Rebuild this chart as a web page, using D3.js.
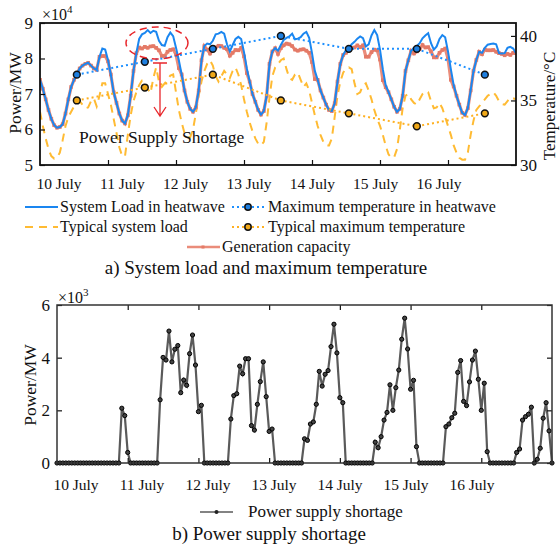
<!DOCTYPE html>
<html><head><meta charset="utf-8">
<script src="https://cdn.jsdelivr.net/npm/d3@7"></script>
<style>
body{margin:0;background:#fff}
svg{display:block}
text{font-family:"Liberation Serif","Times New Roman",serif;fill:#111}
</style>
</head><body>
<svg id="c" width="560" height="546"></svg>
<script>
// ---------------- DATA ----------------
const dayLabels = ["10 July","11 July","12 July","13 July","14 July","15 July","16 July"];
const dayTicks = [24,48,72,96,120,144];
// hourly system load in heatwave (x10^4 MW), hours 0..168
const heatLoad = [
 7.40,7.15,6.85,6.55,6.30,6.12,6.05,6.07,6.15,6.45,6.85,7.20,7.40,7.55,7.72,7.80,7.85,7.88,7.80,7.72,7.68,8.05,8.28,8.25,
 7.96,7.55,7.05,6.75,6.45,6.25,6.17,6.40,6.95,7.65,8.15,8.55,8.68,8.72,8.80,8.72,8.78,8.75,8.50,8.38,8.36,8.60,8.73,8.63,
 8.30,7.95,7.55,7.10,6.78,6.58,6.50,6.62,7.10,7.95,8.35,8.42,8.40,8.50,8.68,8.70,8.75,8.70,8.40,8.20,8.38,8.55,8.61,8.55,
 8.18,7.72,7.35,7.00,6.78,6.55,6.42,6.52,6.95,7.85,8.20,8.29,8.22,8.38,8.52,8.58,8.62,8.70,8.54,8.56,8.60,8.70,8.75,8.58,
 8.15,7.65,7.40,7.10,6.90,6.70,6.55,6.52,6.74,7.35,7.85,8.10,8.24,8.29,8.40,8.47,8.56,8.62,8.57,8.34,8.40,8.65,8.80,8.66,
 8.25,7.70,7.25,7.05,6.85,6.64,6.50,6.58,6.95,7.65,7.95,8.22,8.28,8.35,8.43,8.57,8.65,8.71,8.43,8.25,8.34,8.55,8.66,8.60,
 8.20,7.70,7.25,6.95,6.70,6.47,6.41,6.60,7.10,7.65,7.96,8.19,8.16,8.30,8.39,8.41,8.42,8.40,8.15,8.14,8.15,8.30,8.33,8.28,8.15];
// typical system load (x10^4 MW)
const typicalLoad = [
 6.50,6.10,5.75,5.45,5.25,5.18,5.20,5.35,5.70,6.10,6.35,6.50,6.65,6.78,6.80,6.70,6.60,6.62,6.80,6.88,6.65,6.95,7.30,7.30,
 7.00,6.70,6.30,5.90,5.50,5.25,5.25,5.85,6.40,6.80,7.05,7.25,7.38,7.38,7.15,7.02,7.45,7.75,7.35,7.20,7.30,7.40,7.52,7.55,
 7.05,6.55,6.20,5.90,5.80,5.78,6.00,6.45,6.95,7.35,7.65,7.85,7.95,7.80,7.50,7.35,7.50,7.65,7.55,7.45,7.65,7.75,7.55,7.25,
 6.85,6.50,6.20,5.95,5.75,5.60,5.55,5.65,6.20,6.90,7.50,7.75,7.85,7.95,8.00,7.70,7.45,7.40,7.55,7.60,7.40,7.20,7.30,7.10,
 6.75,6.40,6.10,5.85,5.65,5.55,5.55,5.75,6.35,6.95,7.35,7.60,7.72,7.75,7.70,7.30,7.00,7.05,7.25,7.30,7.10,6.85,6.55,6.30,
 6.10,5.85,5.55,5.30,5.20,5.22,5.45,6.00,6.60,6.95,7.00,6.85,6.75,6.70,6.85,7.00,7.08,7.05,6.80,6.60,6.62,6.75,6.60,6.35,
 6.10,5.85,5.55,5.35,5.20,5.15,5.15,5.35,5.85,6.25,6.55,6.65,6.75,6.85,6.95,7.00,7.05,6.95,6.80,6.72,6.70,6.80,6.90,6.88,6.85];
// generation capacity (x10^4 MW)
const genCapacity = [
 7.40,7.15,6.85,6.55,6.30,6.12,6.05,6.07,6.15,6.45,6.85,7.20,7.40,7.55,7.72,7.80,7.85,7.88,7.80,7.72,7.68,8.05,8.07,8.07,
 7.92,7.55,7.05,6.75,6.45,6.25,6.17,6.40,6.95,7.65,8.15,8.31,8.28,8.33,8.30,8.34,8.35,8.30,8.23,8.07,8.07,8.19,8.24,8.26,
 8.11,7.73,7.55,7.10,6.78,6.58,6.50,6.62,7.10,7.95,8.35,8.25,8.14,8.24,8.31,8.36,8.35,8.30,8.26,8.08,8.16,8.24,8.23,8.30,
 8.06,7.59,7.35,7.00,6.78,6.55,6.42,6.52,6.95,7.85,8.20,8.29,8.13,8.29,8.37,8.42,8.40,8.35,8.25,8.22,8.25,8.26,8.22,8.16,
 7.90,7.42,7.40,7.10,6.90,6.70,6.55,6.52,6.74,7.35,7.85,8.10,8.16,8.23,8.30,8.31,8.37,8.32,8.37,8.05,8.05,8.18,8.25,8.23,
 7.97,7.39,7.19,7.05,6.85,6.64,6.50,6.58,6.95,7.65,7.95,8.22,8.14,8.20,8.26,8.38,8.31,8.32,8.20,8.03,8.03,8.16,8.24,8.28,
 8.00,7.40,7.21,6.95,6.70,6.47,6.41,6.60,7.10,7.65,7.96,8.19,8.12,8.25,8.23,8.23,8.24,8.19,8.15,8.13,8.09,8.13,8.10,8.16,8.15];
// daily maximum temperatures (hour of day 13)
const tempHours = [13,37,61,85,109,133,157];
const heatTemp = [37,38,39,40,39,39,37];
const typicalTemp = [35,36,37,35,34,33,34];
// power supply shortage (MW), hours 0..168
const shortage = [
 0,0,0,0,0,0,0,0,0,0,0,0,0,0,0,0,0,0,0,0,0,0,2080,1800,
 400,0,0,0,0,0,0,0,0,0,0,2400,4010,3910,5010,3840,4320,4460,2670,3150,2950,4150,4860,3720,
 1950,2190,0,0,0,0,0,0,0,0,0,1670,2560,2630,3680,3390,3960,3960,1420,1250,2230,3090,3840,2520,
 1200,1290,0,0,0,0,0,0,0,0,0,0,920,860,1480,1560,2230,3480,2920,3370,3510,4420,5270,4180,
 2480,2290,0,0,0,0,0,0,0,0,0,0,790,580,1000,1630,1920,2970,2000,2860,3530,4700,5500,4330,
 2800,3140,620,0,0,0,0,0,0,0,0,0,1380,1480,1720,1890,3440,3890,2340,2180,3080,3910,4250,3180,
 2000,3030,430,0,0,0,0,0,0,0,0,0,400,530,1630,1760,1850,2120,0,140,560,1700,2290,1220,0];
const loadTicks = [5,6,7,8,9];
const tempTicks = [30,35,40];
const shortTicks = [0,2000,4000,6000];

// ---------------- STYLE ----------------
const C = {
  blue:"#1a86f0", tempBlue:"#1e90ff", orange:"#ffbb33", tempOrange:"#ffb020",
  gen:"#ea8c7a", genMk:"#e47a67", red:"#e8262b", gray:"#5a5a5a"
};
const svg = d3.select("#c");

// ---------------- TOP CHART ----------------
const T = {l:40, r:516, t:23, b:165};
const x1 = d3.scaleLinear().domain([0,168]).range([T.l,T.r]);
const yL = d3.scaleLinear().domain([5,9]).range([T.b,T.t]);
const yR = d3.scaleLinear().domain([30,41]).range([T.b,T.t]);

const gTop = svg.append("g");
svg.append("clipPath").attr("id","clipT").append("rect")
  .attr("x",T.l).attr("y",T.t).attr("width",T.r-T.l).attr("height",T.b-T.t);
const plotT = gTop.append("g").attr("clip-path","url(#clipT)");

const lineL = arr => d3.line().x((d,i)=>x1(i)).y(d=>yL(d))(arr);
plotT.append("path").attr("d",lineL(typicalLoad)).attr("fill","none")
  .attr("stroke",C.orange).attr("stroke-width",2).attr("stroke-dasharray","8,6");
plotT.append("path").attr("d",lineL(genCapacity)).attr("fill","none")
  .attr("stroke",C.gen).attr("stroke-width",3.2);
plotT.selectAll("rect.gm").data(genCapacity).join("rect").attr("class","gm")
  .attr("x",(d,i)=>x1(i)-1.8).attr("y",d=>yL(d)-1.8).attr("width",3.6).attr("height",3.6)
  .attr("fill",C.genMk);
plotT.append("path").attr("d",lineL(heatLoad)).attr("fill","none")
  .attr("stroke",C.blue).attr("stroke-width",2);

const lineTemp = arr => d3.line().x((d,i)=>x1(tempHours[i])).y(d=>yR(d))(arr);
[[heatTemp,C.tempBlue,"#1e7fe0"],[typicalTemp,C.tempOrange,"#f0a818"]].forEach(([arr,col,fill])=>{
  plotT.append("path").attr("d",lineTemp(arr)).attr("fill","none")
    .attr("stroke",col).attr("stroke-width",2).attr("stroke-dasharray","2,3");
  plotT.selectAll(null).data(arr).join("circle")
    .attr("cx",(d,i)=>x1(tempHours[i])).attr("cy",d=>yR(d)).attr("r",3.4)
    .attr("fill",fill).attr("stroke","#111").attr("stroke-width",1.5);
});

function styleAxis(g, fs){
  g.select(".domain").remove();
  g.selectAll("line").attr("stroke","#111").attr("stroke-width",1.2);
  g.selectAll("text").attr("font-size",fs).attr("font-family","Liberation Serif").attr("fill","#111");
}
gTop.append("g").attr("transform",`translate(${T.l},0)`)
  .call(d3.axisLeft(yL).tickValues(loadTicks).tickSize(-5).tickPadding(7).tickFormat(d3.format("d")))
  .call(g=>styleAxis(g,17));
gTop.append("g").attr("transform",`translate(${T.r},0)`)
  .call(d3.axisRight(yR).tickValues(tempTicks).tickSize(-5).tickPadding(4).tickFormat(d3.format("d")))
  .call(g=>styleAxis(g,17));
gTop.append("g").attr("transform",`translate(0,${T.b})`)
  .call(d3.axisBottom(x1).tickValues(dayTicks).tickSize(-5).tickFormat(""))
  .call(g=>styleAxis(g,15));
gTop.append("g").attr("transform",`translate(0,${T.t})`)
  .call(d3.axisTop(x1).tickValues(dayTicks).tickSize(-5).tickFormat(""))
  .call(g=>styleAxis(g,15));
gTop.append("rect").attr("x",T.l).attr("y",T.t).attr("width",T.r-T.l).attr("height",T.b-T.t)
  .attr("fill","none").attr("stroke","#111").attr("stroke-width",1.8);

const lab1 = d3.scalePoint().domain(dayLabels).range([59,439]);
gTop.selectAll("text.dl").data(dayLabels).join("text").attr("class","dl")
  .attr("x",d=>lab1(d)).attr("y",189).attr("text-anchor","middle").attr("font-size",15.5).text(d=>d);

const ex1 = gTop.append("text").attr("x",42).attr("y",20).attr("font-size",16);
ex1.append("tspan").text("×10");
ex1.append("tspan").attr("dy",-7).attr("font-size",11).text("4");

gTop.append("text").attr("transform","translate(15,93) rotate(-90)").attr("text-anchor","middle")
  .attr("dominant-baseline","central").attr("font-size",17.5).text("Power/MW");
gTop.append("text").attr("transform","translate(549,106) rotate(-90)").attr("text-anchor","middle")
  .attr("dominant-baseline","central").attr("font-size",17).text("Temperature/°C");

// annotation
gTop.append("ellipse").attr("cx",157).attr("cy",43).attr("rx",31).attr("ry",16)
  .attr("fill","none").attr("stroke",C.red).attr("stroke-width",1.5).attr("stroke-dasharray","7,5");
gTop.append("path").attr("d","M153,63H167M160,63V116M154,107L160,116L166,107")
  .attr("fill","none").attr("stroke",C.red).attr("stroke-width",1.3);
gTop.append("text").attr("x",79).attr("y",143).attr("font-size",17.5).text("Power Supply Shortage");

// legend
const lg = gTop.append("g");
function legLine(g,xa,xb,y,col,dash,w){
  g.append("line").attr("x1",xa).attr("x2",xb).attr("y1",y).attr("y2",y)
   .attr("stroke",col).attr("stroke-width",w).attr("stroke-dasharray",dash);
}
legLine(lg,25,58,207,C.blue,null,2);
lg.append("text").attr("x",60).attr("y",212).attr("font-size",16).text("System Load in heatwave");
legLine(lg,232,265,207,C.tempBlue,"2,3",2);
lg.append("circle").attr("cx",248).attr("cy",207).attr("r",3.2).attr("fill","#1e7fe0").attr("stroke","#111").attr("stroke-width",1.5);
lg.append("text").attr("x",268).attr("y",212).attr("font-size",16).text("Maximum temperature in heatwave");
legLine(lg,25,58,227,C.orange,"8,6",2);
lg.append("text").attr("x",60).attr("y",232).attr("font-size",16).text("Typical system load");
legLine(lg,232,265,227,C.tempOrange,"2,3",2);
lg.append("circle").attr("cx",248).attr("cy",227).attr("r",3.2).attr("fill","#f0a818").attr("stroke","#111").attr("stroke-width",1.5);
lg.append("text").attr("x",268).attr("y",232).attr("font-size",16).text("Typical maximum temperature");
legLine(lg,187,220,247,C.gen,null,2.5);
lg.append("rect").attr("x",201.5).attr("y",245.5).attr("width",3).attr("height",3).attr("fill",C.genMk);
lg.append("text").attr("x",222).attr("y",252).attr("font-size",16).text("Generation capacity");

gTop.append("text").attr("x",266).attr("y",274).attr("text-anchor","middle").attr("font-size",19)
  .text("a) System load and maximum temperature");

// ---------------- BOTTOM CHART ----------------
const B = {l:57, r:552, t:305, b:463};
const x2 = d3.scaleLinear().domain([0,168]).range([B.l,B.r]);
const y2 = d3.scaleLinear().domain([0,6000]).range([B.b,B.t]);
const gBot = svg.append("g");

gBot.append("path").attr("d",d3.line().x((d,i)=>x2(i)).y(d=>y2(d))(shortage))
  .attr("fill","none").attr("stroke",C.gray).attr("stroke-width",2.2);
gBot.selectAll("circle.sm").data(shortage).join("circle").attr("class","sm")
  .attr("cx",(d,i)=>x2(i)).attr("cy",d=>y2(d)).attr("r",2.1)
  .attr("fill","#444").attr("stroke","#000").attr("stroke-width",1);

gBot.append("g").attr("transform",`translate(${B.l},0)`)
  .call(d3.axisLeft(y2).tickValues(shortTicks).tickSize(-5).tickPadding(7).tickFormat(d=>d/1000))
  .call(g=>styleAxis(g,17));
gBot.append("g").attr("transform",`translate(${B.r},0)`)
  .call(d3.axisRight(y2).tickValues(shortTicks).tickSize(-5).tickFormat(""))
  .call(g=>styleAxis(g,17));
gBot.append("g").attr("transform",`translate(0,${B.b})`)
  .call(d3.axisBottom(x2).tickValues(dayTicks).tickSize(-5).tickFormat(""))
  .call(g=>styleAxis(g,15));
gBot.append("g").attr("transform",`translate(0,${B.t})`)
  .call(d3.axisTop(x2).tickValues(dayTicks).tickSize(-5).tickFormat(""))
  .call(g=>styleAxis(g,15));
gBot.append("rect").attr("x",B.l).attr("y",B.t).attr("width",B.r-B.l).attr("height",B.b-B.t)
  .attr("fill","none").attr("stroke","#333").attr("stroke-width",1.5);

const lab2 = d3.scalePoint().domain(dayLabels).range([76,472]);
gBot.selectAll("text.dl2").data(dayLabels).join("text").attr("class","dl2")
  .attr("x",d=>lab2(d)).attr("y",490).attr("text-anchor","middle").attr("font-size",15.5).text(d=>d);

const ex2 = gBot.append("text").attr("x",58).attr("y",303).attr("font-size",16);
ex2.append("tspan").text("×10");
ex2.append("tspan").attr("dy",-7).attr("font-size",11).text("3");

gBot.append("text").attr("transform","translate(30,385) rotate(-90)").attr("text-anchor","middle")
  .attr("dominant-baseline","central").attr("font-size",17.5).text("Power/MW");

gBot.append("line").attr("x1",200).attr("x2",233).attr("y1",512).attr("y2",512)
  .attr("stroke",C.gray).attr("stroke-width",1.6);
gBot.append("circle").attr("cx",216.5).attr("cy",512).attr("r",2).attr("fill","#222");
gBot.append("text").attr("x",248).attr("y",517).attr("font-size",17).text("Power supply shortage");
gBot.append("text").attr("x",269).attr("y",540).attr("text-anchor","middle").attr("font-size",19)
  .text("b) Power supply shortage");
</script>
</body></html>
